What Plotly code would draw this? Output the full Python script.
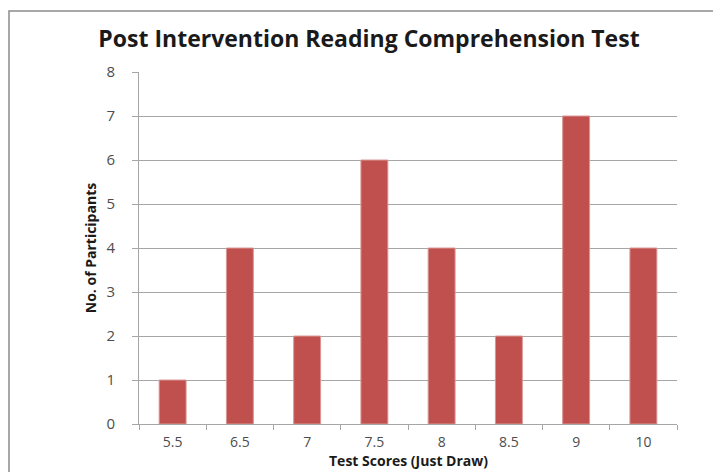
import plotly.graph_objects as go

# Scores achieved on the post-intervention test and how many participants got each
scores = ["5.5", "6.5", "7", "7.5", "8", "8.5", "9", "10"]
participants = [1, 4, 2, 6, 4, 2, 7, 4]
y_ticks = [0, 1, 2, 3, 4, 5, 6, 7, 8]

W, H = 713, 472
L, R, T, B = 139, 36, 72, 48
pw, ph = W - L - R, H - T - B

font_family = "'Open Sans', Lato, Arial, sans-serif"
grid = "#A6A6A6"
tick_text = "#4D4D4D"

fig = go.Figure(
    go.Bar(
        x=scores,
        y=participants,
        marker=dict(color="#C0504D", line=dict(color="#D99694", width=1)),
        width=0.4,
        hoverinfo="x+y",
    )
)

# outer chart frame (runs off the right and bottom edges)
fig.add_shape(
    type="rect", xref="paper", yref="paper",
    x0=(9 - L) / pw, x1=1.3, y0=-0.3, y1=1 + (T - 11) / ph,
    line=dict(color="#8C8C8C", width=1.5), fillcolor="rgba(0,0,0,0)", layer="below",
)

# x-axis title, placed just under the tick labels
fig.add_annotation(
    text="<b>Test Scores (Just Draw)</b>",
    xref="paper", yref="paper", x=0.5, y=-(472 - (H - B)) / ph,
    xanchor="center", yanchor="bottom", showarrow=False,
    font=dict(size=14, color="#1a1a1a"),
)

fig.update_layout(
    width=W, height=H,
    margin=dict(l=L, r=R, t=T, b=B),
    paper_bgcolor="white", plot_bgcolor="white",
    showlegend=False,
    font=dict(family=font_family, color="#262626"),
    title=dict(
        text="<b>Post Intervention Reading Comprehension Test</b>",
        x=369 / W, xanchor="center", xref="container",
        y=1 - 39 / H, yanchor="middle", yref="container",
        font=dict(size=23, color="#1a1a1a"),
    ),
    bargap=0.6,
)

fig.update_xaxes(
    type="category",
    showline=True, linecolor=grid, linewidth=1,
    ticks="outside", tickson="boundaries", ticklen=5, tickcolor=grid,
    tickfont=dict(size=14, color=tick_text),
    ticklabelstandoff=5,
    showgrid=False,
    automargin=False,
)

fig.update_yaxes(
    range=[0, 8], tickvals=y_ticks,
    showline=True, linecolor=grid, linewidth=1,
    ticks="outside", ticklen=6, tickcolor=grid,
    tickfont=dict(size=15, color=tick_text),
    ticklabelstandoff=14,
    showgrid=True, gridcolor=grid, gridwidth=1,
    zeroline=False,
    title=dict(text="<b>No. of Participants</b>", font=dict(size=14, color="#1a1a1a"), standoff=6),
    automargin=False,
)

fig.write_html("out.html")
